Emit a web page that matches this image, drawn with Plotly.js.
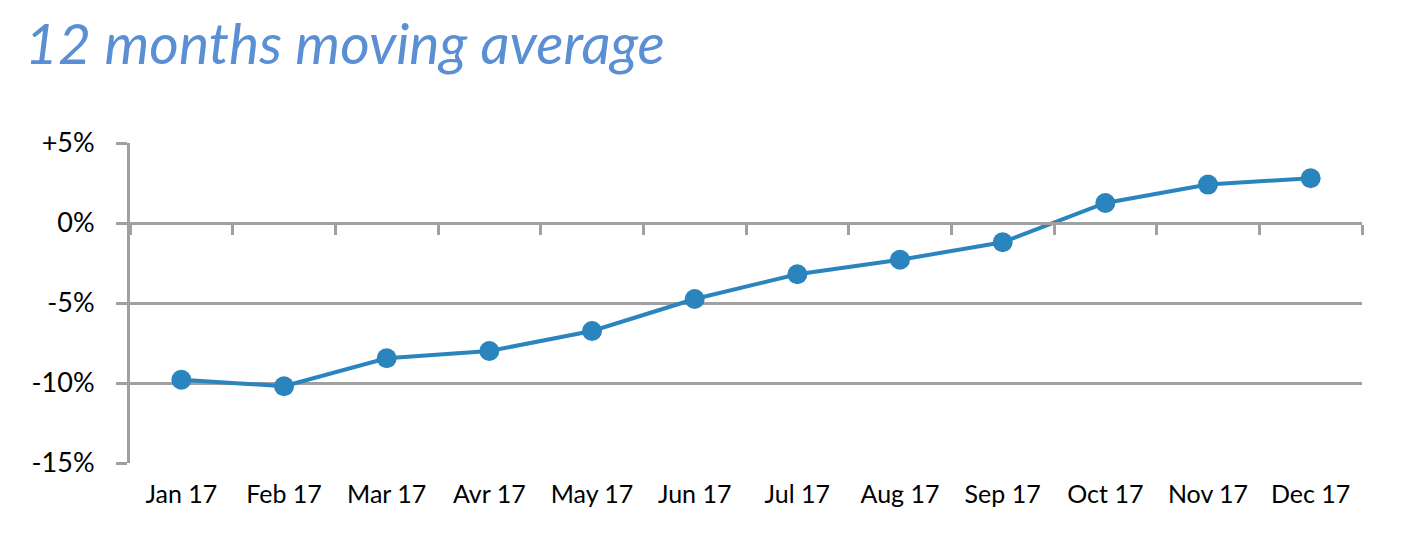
<!DOCTYPE html>
<html>
<head>
<meta charset="utf-8">
<script src="https://cdn.plot.ly/plotly-3.0.1.min.js"></script>
<style>html,body{margin:0;padding:0;background:#fff;}#chart{width:1413px;height:547px;}</style>
</head>
<body>
<div id="chart"></div>
<script>
const months = ["Jan 17","Feb 17","Mar 17","Avr 17","May 17","Jun 17","Jul 17","Aug 17","Sep 17","Oct 17","Nov 17","Dec 17"];
const movingAvg = [-9.8, -10.2, -8.45, -8.0, -6.75, -4.75, -3.2, -2.3, -1.2, 1.25, 2.4, 2.8];
const yTickVals = [5, 0, -5, -10, -15];
const yTickText = ["+5%", "0%", "-5%", "-10%", "-15%"];
const boundaryTicks = [-0.5,0.5,1.5,2.5,3.5,4.5,5.5,6.5,7.5,8.5,9.5,10.5,11.5];

const gridColor = "#a0a0a0";
const lineColor = "#2a84bd";
const font = "Lato, 'Open Sans', sans-serif";

const traces = [
  {
    x: months, y: movingAvg, type: "scatter", mode: "lines+markers",
    line: {color: lineColor, width: 4},
    marker: {color: lineColor, size: 20},
    xaxis: "x", yaxis: "y", hoverinfo: "skip"
  },
  {
    x: [0], y: [0], type: "scatter", mode: "markers", marker: {opacity: 0},
    xaxis: "x2", yaxis: "y", showlegend: false, hoverinfo: "skip"
  }
];

const layout = {
  width: 1413, height: 547,
  paper_bgcolor: "#ffffff", plot_bgcolor: "#ffffff",
  showlegend: false,
  margin: {l: 130, r: 51, t: 143, b: 84},
  title: {
    text: "<i>12 months moving average</i>",
    x: 25/1413, xanchor: "left", xref: "container",
    y: 1 - 44/547, yanchor: "middle", yref: "container",
    font: {family: font, size: 57, color: "#5b8fd4"}
  },
  xaxis: {
    type: "category", range: [-0.5, 11.5],
    showgrid: false, zeroline: false, showline: false,
    ticks: "outside", ticklen: 9, tickcolor: "rgba(0,0,0,0)",
    tickfont: {family: font, size: 25, color: "#000"},
    fixedrange: true
  },
  xaxis2: {
    overlaying: "x", anchor: "free", position: 0.75, side: "bottom",
    range: [-0.5, 11.5], showgrid: false, zeroline: false,
    showline: true, linecolor: gridColor, linewidth: 3,
    tickmode: "array", tickvals: boundaryTicks, showticklabels: false,
    ticks: "outside", ticklen: 10, tickwidth: 3, tickcolor: gridColor
  },
  yaxis: {
    range: [-15, 5], tickmode: "array", tickvals: yTickVals, ticktext: yTickText,
    showgrid: true, gridcolor: gridColor, gridwidth: 3,
    zeroline: false,
    showline: true, linecolor: gridColor, linewidth: 3,
    ticks: "outside", ticklen: 11, tickwidth: 3, tickcolor: gridColor,
    ticklabelstandoff: 16,
    tickfont: {family: font, size: 27, color: "#000"},
    fixedrange: true
  }
};

Plotly.newPlot("chart", traces, layout, {staticPlot: true, displayModeBar: false});
</script>
</body>
</html>
